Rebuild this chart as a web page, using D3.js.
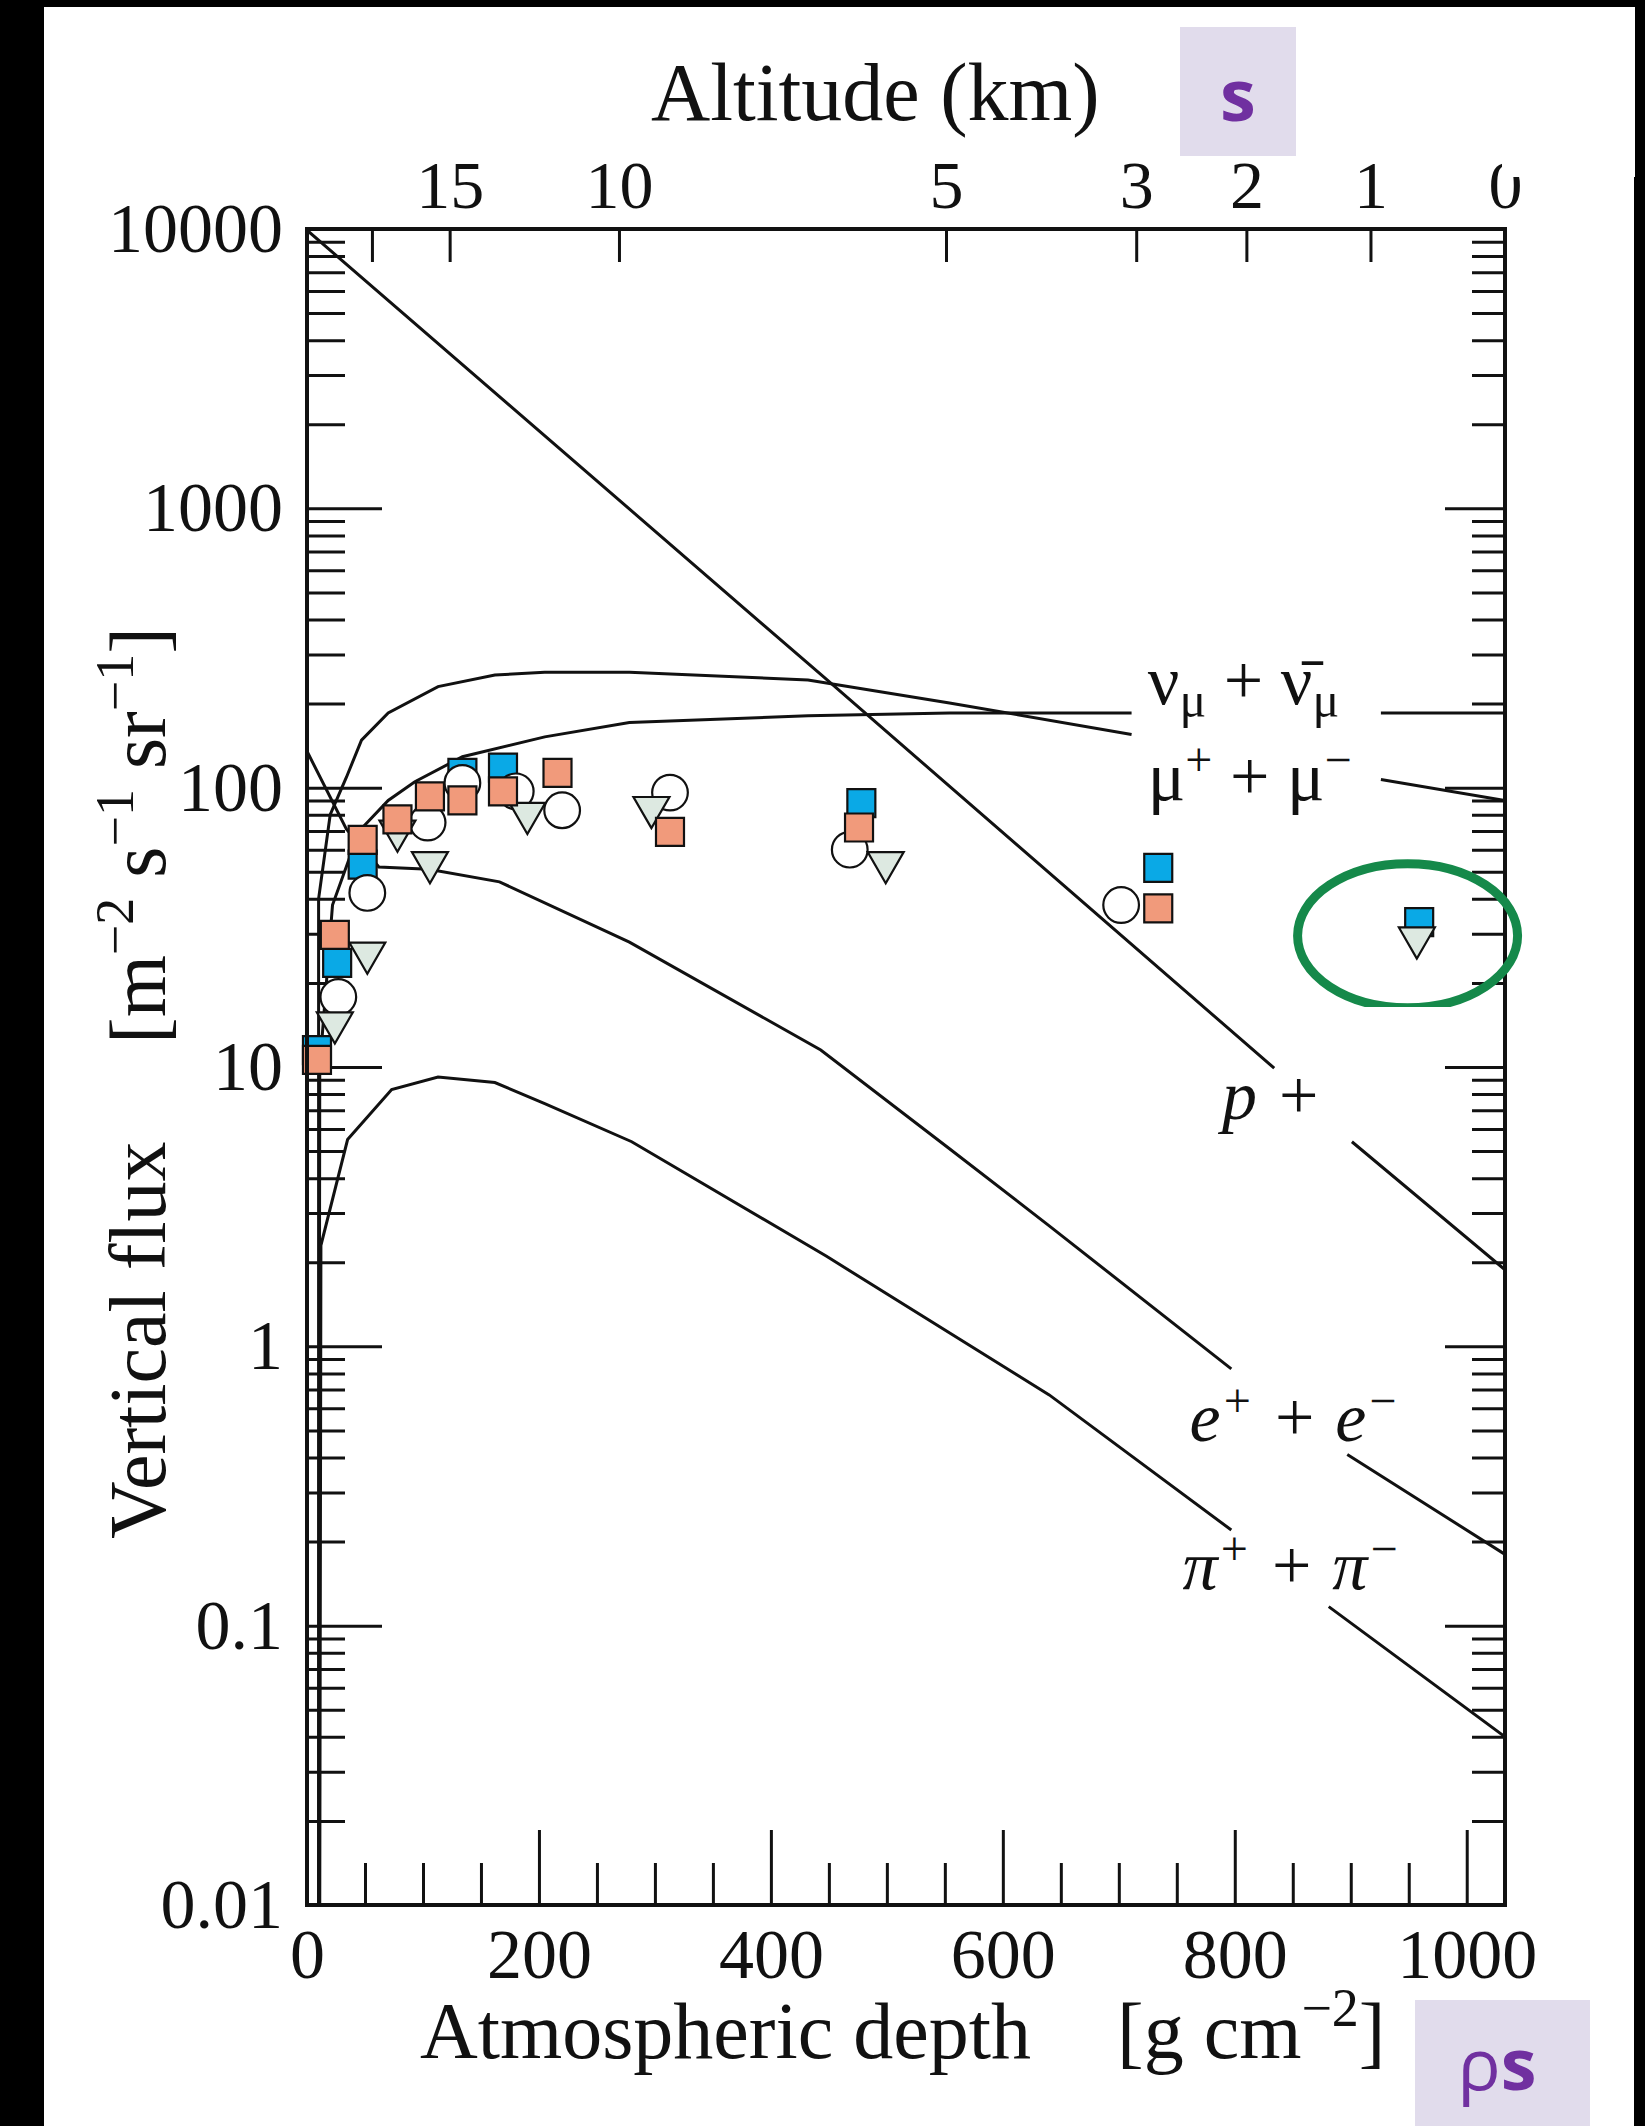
<!DOCTYPE html>
<html>
<head>
<meta charset="utf-8">
<script src="https://cdn.jsdelivr.net/npm/d3@7"></script>
<style>
  html, body { margin: 0; padding: 0; background: #000; }
  svg { display: block; }
  text { font-family: "Liberation Serif", "DejaVu Serif", serif; fill: #111; }
</style>
</head>
<body>
<svg id="chart" width="1645" height="2126"></svg>
<script>
// curves: [atmospheric depth (g/cm2), vertical flux (m-2 s-1 sr-1)], null = gap left for a label
const nucleons = [[0, 9900], [446, 248], [834, 9.9], null, [901, 5.4], [1033, 1.88]];
const muons = [[10, 0.01], [10, 40], [20, 80], [34, 109], [47, 148], [70, 185], [113, 230], [162, 253], [205, 259],
  [278, 259], [432, 243], [554, 201], [711, 155], null, [926, 107], [1033, 90]];
const neutrinos = [[10, 0.01], [11, 10], [22, 38], [45, 70], [70, 90], [93, 105], [134, 129], [205, 152], [278, 171],
  [432, 181], [554, 185], [711, 185], null, [926, 185], [1033, 185]];
const electrons = [[0, 135], [34, 71], [62, 52], [105, 51], [166, 46], [278, 28], [443, 11.5], [554, 5.1], [640, 2.7],
  [797, 0.83], null, [897, 0.41], [1033, 0.18]];
const pions = [[11, 0.01], [12, 2.3], [35, 5.5], [73, 8.3], [113, 9.2], [162, 8.8], [205, 7.4], [280, 5.4], [448, 2.1],
  [640, 0.67], [797, 0.22], null, [881, 0.117], [1033, 0.04]];

// measured negative muons, four experiments
const blueSquares = [[8.6, 11.5], [26, 23.6], [48, 53], [134, 113], [169, 118], [478, 88], [734, 51.6], [959, 33]];
const openCircles = [[27, 17.8], [52, 42], [104, 75], [134, 104], [180, 97], [220, 83], [313, 96], [468, 60], [702, 38]];
const triangles = [[24, 14.4], [52, 25.6], [78, 70], [106, 54], [190, 81], [297, 85], [499, 54], [957, 29]];
const orangeSquares = [[8.6, 10.6], [24, 29.7], [48, 65], [78, 77], [106, 93], [134, 90], [169, 97], [216, 113],
  [313, 69.5], [476, 72], [734, 37]];

// axes
const depthMajor = [0, 200, 400, 600, 800, 1000];
const depthMinor = d3.range(50, 1001, 50).filter(d => d % 200 !== 0);
const fluxMajor = [0.01, 0.1, 1, 10, 100, 1000, 10000];
const fluxLabels = ['0.01', '0.1', '1', '10', '100', '1000', '10000'];
const altitudeKm = [20, 15, 10, 5, 3, 2, 1, 0];
const altitudeDepth = [56, 123, 269, 551, 715, 810, 917, 1033];
const altitudeLabels = ['', '15', '10', '5', '3', '2', '1', '0'];

const svg = d3.select('#chart');
const pLeft = 307, pRight = 1505, pTop = 229, pBottom = 1905;

svg.append('rect').attr('x', 44).attr('y', 7).attr('width', 1590).attr('height', 2119).attr('fill', '#fff');

const x = d3.scaleLinear().domain([0, 1033]).range([pLeft, pRight]);
const y = d3.scaleLog().domain([0.01, 10000]).range([pBottom, pTop]);

const fluxMinor = [];
for (let k = -2; k < 4; k++) for (let m = 2; m <= 9; m++) fluxMinor.push(m * Math.pow(10, k));

function tickGroup(axis, tx, ty) {
  const g = svg.append('g').attr('transform', `translate(${tx},${ty})`).call(axis);
  g.select('.domain').remove();
  g.selectAll('line').attr('stroke', '#111').attr('stroke-width', 3);
  g.attr('font-family', null).attr('font-size', null);
  return g;
}

// inward ticks on all four sides
tickGroup(d3.axisRight(y).tickValues(fluxMajor).tickSize(75).tickFormat(''), pLeft, 0);
tickGroup(d3.axisRight(y).tickValues(fluxMinor).tickSize(38).tickFormat(''), pLeft, 0);
tickGroup(d3.axisLeft(y).tickValues(fluxMajor).tickSize(60).tickFormat(''), pRight, 0);
tickGroup(d3.axisLeft(y).tickValues(fluxMinor).tickSize(33).tickFormat(''), pRight, 0);
tickGroup(d3.axisTop(x).tickValues(depthMajor).tickSize(75).tickFormat(''), 0, pBottom);
tickGroup(d3.axisTop(x).tickValues(depthMinor).tickSize(42).tickFormat(''), 0, pBottom);
tickGroup(d3.axisBottom(x).tickValues(altitudeDepth).tickSize(33).tickFormat(''), 0, pTop);

// tick labels
const yLab = tickGroup(d3.axisLeft(y).tickValues(fluxMajor).tickSize(0).tickPadding(24)
  .tickFormat((d, i) => fluxLabels[i]), pLeft, 0);
yLab.selectAll('text').attr('font-size', 70).attr('dy', '0.32em');

const xLab = tickGroup(d3.axisBottom(x).tickValues(depthMajor).tickSize(0).tickFormat(d3.format('d')), 0, pBottom);
xLab.selectAll('text').attr('font-size', 70).attr('y', 73).attr('dy', 0);

const aLab = tickGroup(d3.axisTop(x).tickValues(altitudeDepth).tickSize(0)
  .tickFormat((d, i) => altitudeLabels[i]), 0, pTop);
aLab.selectAll('text').attr('font-size', 68).attr('y', -21).attr('dy', 0);

// curves
const plot = svg.append('g');
plot.append('clipPath').attr('id', 'pclip').append('rect')
  .attr('x', pLeft).attr('y', pTop).attr('width', pRight - pLeft).attr('height', pBottom - pTop);
const line = d3.line().defined(d => d !== null).x(d => x(d[0])).y(d => y(d[1]));
[nucleons, muons, neutrinos, electrons, pions].forEach(c => {
  plot.append('path').datum(c).attr('clip-path', 'url(#pclip)')
    .attr('fill', 'none').attr('stroke', '#111').attr('stroke-width', 3).attr('d', line);
});

// frame
svg.append('rect').attr('x', pLeft).attr('y', pTop).attr('width', pRight - pLeft).attr('height', pBottom - pTop)
  .attr('fill', 'none').attr('stroke', '#111').attr('stroke-width', 4);

// data points
function markers(data, type, size, fill, rot) {
  plot.append('g').selectAll('path').data(data).join('path')
    .attr('d', d3.symbol().type(type).size(size))
    .attr('transform', d => `translate(${x(d[0])},${y(d[1])}) rotate(${rot})`)
    .attr('fill', fill).attr('stroke', '#111').attr('stroke-width', 2.2);
}
markers(blueSquares, d3.symbolSquare, 784, '#0aa9e6', 0);
markers(openCircles, d3.symbolCircle, 1000, '#fff', 0);
markers(triangles, d3.symbolTriangle, 560, '#dde9e1', 180);
markers(orangeSquares, d3.symbolSquare, 784, '#f19a7b', 0);

// curve labels (anchored in data coordinates)
const labels = svg.append('g').attr('font-size', 70);
function label(depth, flux, parts, italic) {
  const t = labels.append('text').attr('x', x(depth)).attr('y', y(flux))
    .attr('font-style', italic ? 'italic' : 'normal');
  parts.forEach(p => {
    const s = t.append('tspan').text(p[0]);
    if (p[1] === 'sup') s.attr('font-size', 48).attr('dy', -24);
    if (p[1] === 'sub') s.attr('font-size', 50).attr('dy', 13);
    if (p[1] === 'back-sup') s.attr('dy', 24);
    if (p[1] === 'back-sub') s.attr('dy', -13);
  });
}
label(725, 200, [['ν'], ['μ', 'sub'], [' + ', 'back-sub'], ['ν\u0304'], ['μ', 'sub']], false);
label(725, 90, [['μ'], ['+', 'sup'], [' + ', 'back-sup'], ['μ'], ['−', 'sup']], false);
label(789, 6.5, [['p'], [' +', '']], true);
label(761, 0.46, [['e'], ['+', 'sup'], [' + ', 'back-sup'], ['e'], ['−', 'sup']], true);
label(755, 0.135, [['π'], ['+', 'sup'], [' + ', 'back-sup'], ['π'], ['−', 'sup']], true);

// axis titles
svg.append('text').attr('x', 651).attr('y', 120).attr('font-size', 82).text('Altitude (km)');

const xt = svg.append('text').attr('x', 420).attr('y', 2058).attr('font-size', 80);
xt.append('tspan').text('Atmospheric depth');
xt.append('tspan').attr('x', 1117).text('[g cm');
xt.append('tspan').attr('font-size', 54).attr('dy', -32).text('−2');
xt.append('tspan').attr('dy', 32).text(']');

const yt = svg.append('text').attr('transform', 'translate(165,1539) rotate(-90)').attr('font-size', 80);
yt.append('tspan').text('Vertical flux');
yt.append('tspan').attr('x', 495).text('[m');
[['−2', ' s'], ['−1', ' sr'], ['−1', ']']].forEach(p => {
  yt.append('tspan').attr('font-size', 54).attr('dy', -32).text(p[0]);
  yt.append('tspan').attr('dy', 32).text(p[1]);
});

// white patch that cuts the "0" altitude label
svg.append('rect').attr('x', 1502).attr('y', 7).attr('width', 133).attr('height', 170).attr('fill', '#fff');

// highlight ellipse around the sea-level point
svg.append('clipPath').attr('id', 'eclip').append('rect').attr('x', 1200).attr('y', 800).attr('width', 400).attr('height', 207);
svg.append('ellipse').attr('clip-path', 'url(#eclip)')
  .attr('cx', x(949)).attr('cy', y(29.5)).attr('rx', 110).attr('ry', 72)
  .attr('fill', 'none').attr('stroke', '#15894a').attr('stroke-width', 9);

// slide badges
svg.append('rect').attr('x', 1180).attr('y', 27).attr('width', 116).attr('height', 129).attr('fill', '#e1dcec');
svg.append('text').attr('x', 1238).attr('y', 121).attr('text-anchor', 'middle')
  .style('font-family', '"Open Sans", "Liberation Sans", sans-serif').style('fill', '#7030a0')
  .attr('font-weight', 'bold').attr('font-size', 72).text('s');
svg.append('rect').attr('x', 1415).attr('y', 2000).attr('width', 175).attr('height', 126).attr('fill', '#e1dcec');
const ps = svg.append('text').attr('x', 1497).attr('y', 2090).attr('text-anchor', 'middle')
  .style('font-family', '"Open Sans", "Liberation Sans", sans-serif').style('fill', '#7030a0').attr('font-size', 72);
ps.append('tspan').text('ρ');
ps.append('tspan').attr('font-weight', 'bold').text('s');
</script>
</body>
</html>
